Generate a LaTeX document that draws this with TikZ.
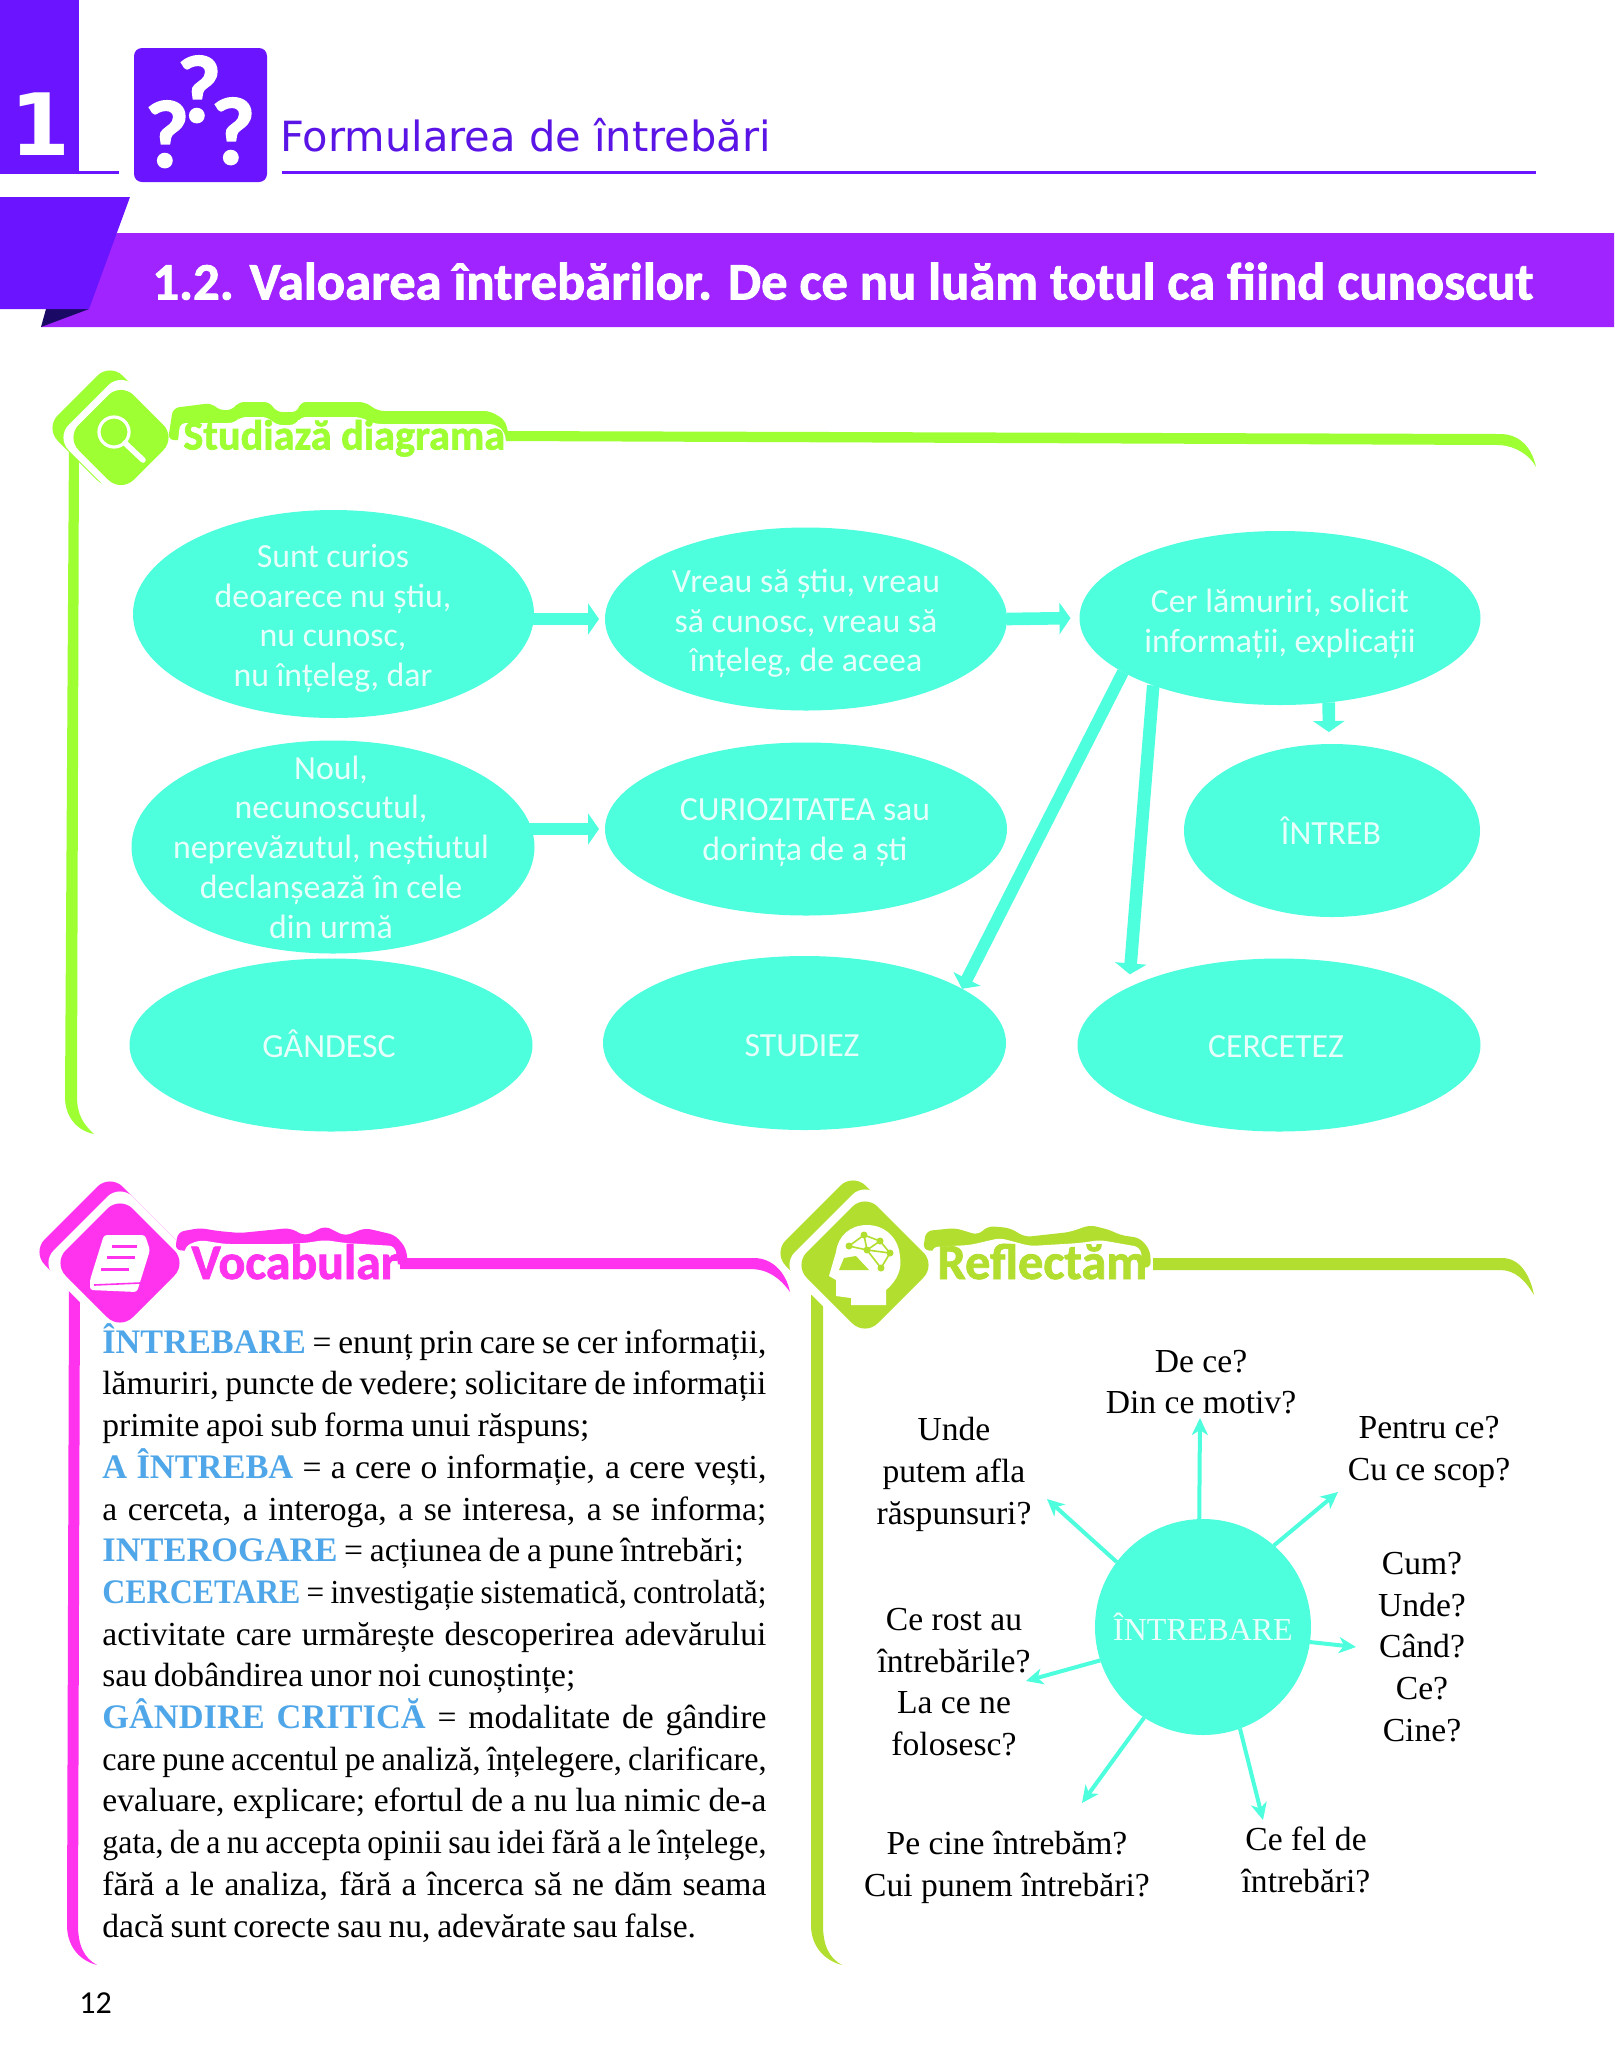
\documentclass[tikz,border=0pt]{standalone}
\usepackage{fontspec}
\usepackage{graphicx}
\usetikzlibrary{shapes.geometric,arrows.meta}
\setmainfont{Liberation Serif}
\newfontfamily\carl{Carlito}
\newfontfamily\carlb[FakeBold=1.6]{Carlito Bold}
\newfontfamily\djvu{DejaVu Sans}
\definecolor{cyn}{HTML}{4DFFDD}
\definecolor{cyntext}{HTML}{E6FFFA}
\definecolor{vio}{HTML}{6A14FF}
\definecolor{band}{HTML}{A024FF}
\definecolor{dark}{HTML}{1A0A66}
\definecolor{titlec}{HTML}{5A14E6}
\definecolor{mag}{HTML}{FF33EE}
\definecolor{lime}{HTML}{9EFF33}
\definecolor{olive}{HTML}{B2DE2F}
\definecolor{blu}{HTML}{4FA6E8}
\newcommand{\rdiam}[4]{\fill[#4,rounded corners=9pt] (#1-#3-8,#2)--(#1,#2-#3-8)--(#1+#3+8,#2)--(#1,#2+#3+8)--cycle;}
\newsavebox\jlbox
\newcommand{\jl}[1]{\sbox\jlbox{#1}\ifdim\wd\jlbox>332pt\relax\hbox{\resizebox{332pt}{\height}{\usebox\jlbox}}\else\hbox to 332pt{#1}\fi}
\newcommand{\bl}[1]{\textcolor{blu}{\fontsize{17.2}{20.85}\selectfont\textbf{#1}}}
\tikzset{
  elps/.style={shape=ellipse,fill=cyn,inner sep=0pt,outer sep=0pt},
  etext/.style={font=\carl\fontsize{16.9}{19.9}\selectfont,text=cyntext,align=center,inner sep=0pt},
  flow/.style={draw=cyn,line width=6.3pt,-{Triangle[length=5.5pt,width=15.5pt]}},
  flowthin/.style={draw=cyn,line width=6pt,-{Triangle[length=5.5pt,width=15pt]}},
  ray/.style={draw=cyn,line width=2pt,-{Stealth[length=8.5pt,width=8pt,inset=2.5pt]}},
  lab/.style={font=\fontsize{16.8}{20.85}\selectfont,align=center,inner sep=0pt},
  sect/.style={font=\carlb\fontsize{#1}{#1}\selectfont,anchor=base west,inner sep=0pt},
  qm/.style={font=\carlb\fontsize{48}{48}\selectfont,text=white,inner sep=0pt,anchor=base},
}
\begin{document}
\begin{tikzpicture}[x=0.5pt,y=-0.5pt]
\useasboundingbox (0,0) rectangle (1614,2047);
% header
\fill[vio] (0,0) rectangle (79,172);
\draw[vio,line width=1.5pt] (0,172)--(119,172);
\draw[vio,line width=1.5pt] (282,172)--(1536,172);
\node[font=\djvu\bfseries\fontsize{43}{43}\selectfont,text=white,anchor=base,inner sep=0pt] (chap) at (40,155) {1};
\fill[vio,rounded corners=4pt] (134,48) rectangle (267,182);
\node[qm] (q1) at (199,122) {?};
\node[qm] (q2) at (167,167) {?};
\node[qm] (q3) at (233,164) {?};
\node[font=\djvu\fontsize{20.8}{22}\selectfont,text=titlec,anchor=base west,inner sep=0pt] (chaptitle) at (280,151) {Formularea de întrebări};
% band
\fill[band] (117,233)--(1614,233)--(1614,327)--(41,327)--cycle;
\fill[dark] (41,327)--(89,309)--(46,309)--cycle;
\fill[vio] (0,197)--(130,197)--(89,309)--(0,309)--cycle;
\node[font=\carlb\fontsize{26.3}{27}\selectfont,text=white,anchor=base west,inner sep=0pt] (sectitle) at (152,299.5) {1.2. Valoarea întrebărilor. De ce nu luăm totul ca fiind cunoscut};
% Studiaza frame
\fill[lime] (69,440) -- (79,440) -- (77,1097) .. controls (77,1115) and (84,1125) .. (94,1134) .. controls (75,1130) and (65,1115) .. (65,1097) -- cycle;
\fill[lime] (500,431) -- (1500,434) .. controls (1520,434) and (1532,448) .. (1536,467) .. controls (1530,455) and (1515,446) .. (1500,445) -- (500,441) -- cycle;
\rdiam{110}{428}{57}{lime}
\rdiam{121}{437.5}{57}{white}
\rdiam{121}{437.5}{47}{lime}
\draw[white,line width=1.6pt] (114,432) circle (15);
\draw[white,line width=2.8pt,line cap=round] (125,443)--(143,460);
\fill[lime,rounded corners=3pt] (168,440)--(173,408)--(212,403)--(218,410)--(233,410)--(238,402)--(270,402)--(276,412)--(298,412)--(300,402)--(365,402)--(378,411)--(490,411)--(505,420)--(510,440)--cycle;
\fill[white,rounded corners=3pt] (176,460)--(180,423)--(220,423)--(235,423)--(240,417)--(268,417)--(276,425)--(296,425)--(300,417)--(360,417)--(375,424)--(495,424)--(505,432)--(508,465)--cycle;
\node[sect=21.1,text=lime] (t1) at (183,449.5) {Studiază diagrama};
% ellipses
\node[elps,minimum width=200.5pt,minimum height=104pt] (e1) at (333.5,614) {};
\node[elps,minimum width=201pt,minimum height=91.5pt] (e2) at (806,619) {};
\node[elps,minimum width=200.5pt,minimum height=87pt] (e3) at (1280,618) {};
\node[elps,minimum width=201.5pt,minimum height=106.5pt] (e4) at (333,847) {};
\node[elps,minimum width=201pt,minimum height=86.5pt] (e5) at (806,829) {};
\node[elps,minimum width=148pt,minimum height=86.5pt] (e6) at (1332,830.5) {};
\node[elps,minimum width=201.5pt,minimum height=86.5pt] (e7) at (331,1045) {};
\node[elps,minimum width=201.5pt,minimum height=87pt] (e8) at (804.5,1043) {};
\node[elps,minimum width=201.5pt,minimum height=86.5pt] (e9) at (1279,1045) {};
\node[etext] (t_e1) at (333,618.5) {Sunt curios\\deoarece nu știu,\\nu cunosc,\\nu înțeleg, dar};
\node[etext] (t_e2) at (806,623.5) {Vreau să știu, vreau\\să cunosc, vreau să\\înțeleg, de aceea};
\node[etext] (t_e3) at (1280,623.5) {Cer lămuriri, solicit\\informații, explicații};
\node[etext] (t_e4) at (331,847) {Noul,\\necunoscutul,\\neprevăzutul, neștiutul\\declanșează în cele\\din urmă};
\node[etext] (t_e5) at (805,833) {CURIOZITATEA sau\\dorința de a ști};
\node[etext] (t_e6) at (1331,830.7) {ÎNTREB};
\node[etext] (t_e7) at (329,1043.7) {GÂNDESC};
\node[etext] (t_e8) at (802,1045.3) {STUDIEZ};
\node[etext] (t_e9) at (1276,1046.3) {CERCETEZ};
% flow arrows
\draw[flow,shorten <=-2pt,shorten >=3pt] (e1.east |- e2.west) -- (e2.west);
\draw[flow,shorten >=4.5pt] (e2.east) -- (e3.west);
\draw[flow,shorten <=-4pt,shorten >=3pt] (e4.east |- e5.west) -- (e5.west);
\draw[flow,shorten >=6pt] (e3.-60.5) -- (e6.92);
\draw[flow,shorten >=6.5pt] (e3.208.2) -- (e9.159);
\draw[flowthin] (e3.199.9) -- (e8.19.3);
% Vocabular frame
\fill[mag] (69,1285) -- (80,1285) -- (78,1925) .. controls (78,1945) and (84,1958) .. (97,1965) .. controls (78,1960) and (67,1945) .. (67,1925) -- cycle;
\fill[mag] (400,1258) -- (754,1258) .. controls (772,1258) and (786,1272) .. (790,1292) .. controls (780,1278) and (768,1269) .. (750,1269) -- (400,1269) -- cycle;
\rdiam{110}{1252}{70}{mag}
\rdiam{120}{1263}{71}{white}
\rdiam{120}{1263}{59}{mag}
\fill[white,rounded corners=1.5pt] (104,1235)--(145,1235)--(150,1250)--(137,1292)--(90,1290)--(90,1280)--cycle;
\draw[mag,line width=1.5pt] (112,1246)--(137,1246) (107,1257)--(135,1257) (101,1269)--(129,1269);
\draw[mag,line width=.8pt] (94,1285)--(140,1283);
\fill[mag,rounded corners=3pt] (175,1250)--(178,1232)--(200,1228)--(218,1231)--(240,1233)--(290,1228)--(305,1236)--(325,1226)--(345,1236)--(365,1228)--(395,1235)--(406,1248)--(408,1265)--cycle;
\fill[white,rounded corners=3pt] (183,1290)--(185,1246)--(200,1240)--(225,1244)--(285,1244)--(305,1243)--(325,1240)--(345,1243)--(395,1246)--(402,1290)--cycle;
\node[sect=24.9,text=mag] (t2) at (191,1279) {Vocabular};
\node[font=\fontsize{16.8}{20.85}\selectfont,text width=332pt,anchor=north west,inner sep=0pt] (vocab) at (102,1323) {\baselineskip=20.85pt\parindent=0pt\hfuzz=20pt\spaceskip=.2em plus 1em
\jl{\bl{ÎNTREBARE} = enunț prin care se cer informații,}
\jl{lămuriri, puncte de vedere; solicitare de informații}
\hbox{primite apoi sub forma unui răspuns;}
\jl{\bl{A ÎNTREBA} = a cere o informație, a cere vești,}
\jl{a cerceta, a interoga, a se interesa, a se informa;}
\hbox{\bl{INTEROGARE} = acțiunea de a pune întrebări;}
\jl{\bl{CERCETARE} = investigație sistematică, controlată;}
\jl{activitate care urmărește descoperirea adevărului}
\hbox{sau dobândirea unor noi cunoștințe;}
\jl{\bl{GÂNDIRE CRITICĂ} = modalitate de gândire}
\jl{care pune accentul pe analiză, înțelegere, clarificare,}
\jl{evaluare, explicare; efortul de a nu lua nimic de-a}
\jl{gata, de a nu accepta opinii sau idei fără a le înțelege,}
\jl{fără a le analiza, fără a încerca să ne dăm seama}
\hbox{dacă sunt corecte sau nu, adevărate sau false.}
};
% Reflectam frame
\fill[olive] (811,1295) -- (823,1295) -- (823,1925) .. controls (823,1945) and (829,1958) .. (842,1965) .. controls (823,1960) and (811,1945) .. (811,1925) -- cycle;
\fill[olive] (1153,1258) -- (1502,1258) .. controls (1520,1258) and (1530,1275) .. (1534,1295) .. controls (1525,1280) and (1515,1270) .. (1500,1270) -- (1153,1270) -- cycle;
\rdiam{853}{1253}{72}{olive}
\rdiam{865}{1265}{75}{white}
\rdiam{865}{1265}{63}{olive}
\fill[white] (851,1305)--(886,1305)--(886,1290) .. controls (898,1280) and (902,1268) .. (900,1257) .. controls (899,1238) and (885,1225) .. (867,1225) .. controls (850,1225) and (838,1236) .. (836,1252) -- (829,1276)--(836,1280)--(836,1296)--(851,1298)--cycle;
\draw[olive,line width=.8pt] (864,1235)--(849,1246)--(867,1250)--(864,1235)--(880,1241)--(890,1253)--(881,1268)--(867,1250)--(880,1241) (867,1250)--(890,1253);
\foreach \p in {(864,1235),(849,1246),(880,1241),(890,1253),(881,1268),(867,1250)} \fill[olive] \p circle (3.5);
\fill[olive] (839,1270)--(844,1258)--(856,1256)--(869,1270)--cycle;
\fill[olive,rounded corners=3pt] (923,1250)--(926,1231)--(955,1228)--(978,1235)--(988,1226)--(1010,1228)--(1025,1237)--(1070,1232)--(1090,1225)--(1110,1230)--(1120,1235)--(1140,1238)--(1150,1250)--(1151,1268)--cycle;
\fill[white,rounded corners=3pt] (932,1290)--(932,1247)--(970,1245)--(1000,1238)--(1030,1246)--(1080,1243)--(1100,1240)--(1140,1247)--(1148,1290)--cycle;
\node[sect=25.2,text=olive] (t3) at (937,1279) {Reflectăm};
% right diagram
\node[shape=circle,fill=cyn,inner sep=0pt,outer sep=0pt,minimum size=108pt,font=\fontsize{16}{20}\selectfont,text=cyntext] (c) at (1203,1627) {\raisebox{.7pt}{ÎNTREBARE}};
\coordinate (a1) at (1200,1418);
\coordinate (a2) at (1338,1492);
\coordinate (a3) at (1047,1499);
\coordinate (a4) at (1356,1647);
\coordinate (a5) at (1026,1681);
\coordinate (a6) at (1082,1803);
\coordinate (a7) at (1263,1820);
\draw[ray] (c.92) -- (a1);
\draw[ray] (c.49.5) -- (a2);
\draw[ray] (c.143) -- (a3);
\draw[ray] (c.-8) -- (a4);
\draw[ray] (c.198) -- (a5);
\draw[ray] (c.237) -- (a6);
\draw[ray] (c.-70) -- (a7);
\node[lab] (l1) at (1201,1382) {De ce?\\Din ce motiv?};
\node[lab] (l2) at (954,1474.5) {Unde\\putem afla\\răspunsuri?};
\node[lab] (l3) at (1429,1452) {Pentru ce?\\Cu ce scop?};
\node[lab] (l4) at (1422,1647) {Cum?\\Unde?\\Când?\\Ce?\\Cine?};
\node[lab] (l5) at (954,1682) {Ce rost au\\întrebările?\\La ce ne\\folosesc?};
\node[lab] (l6) at (1007,1867.5) {Pe cine întrebăm?\\Cui punem întrebări?};
\node[lab] (l7) at (1306,1860) {Ce fel de\\întrebări?};
\node[font=\carl\fontsize{16}{16}\selectfont,anchor=base west,inner sep=0pt] (pg) at (79,2013) {12};
\end{tikzpicture}
\end{document}
